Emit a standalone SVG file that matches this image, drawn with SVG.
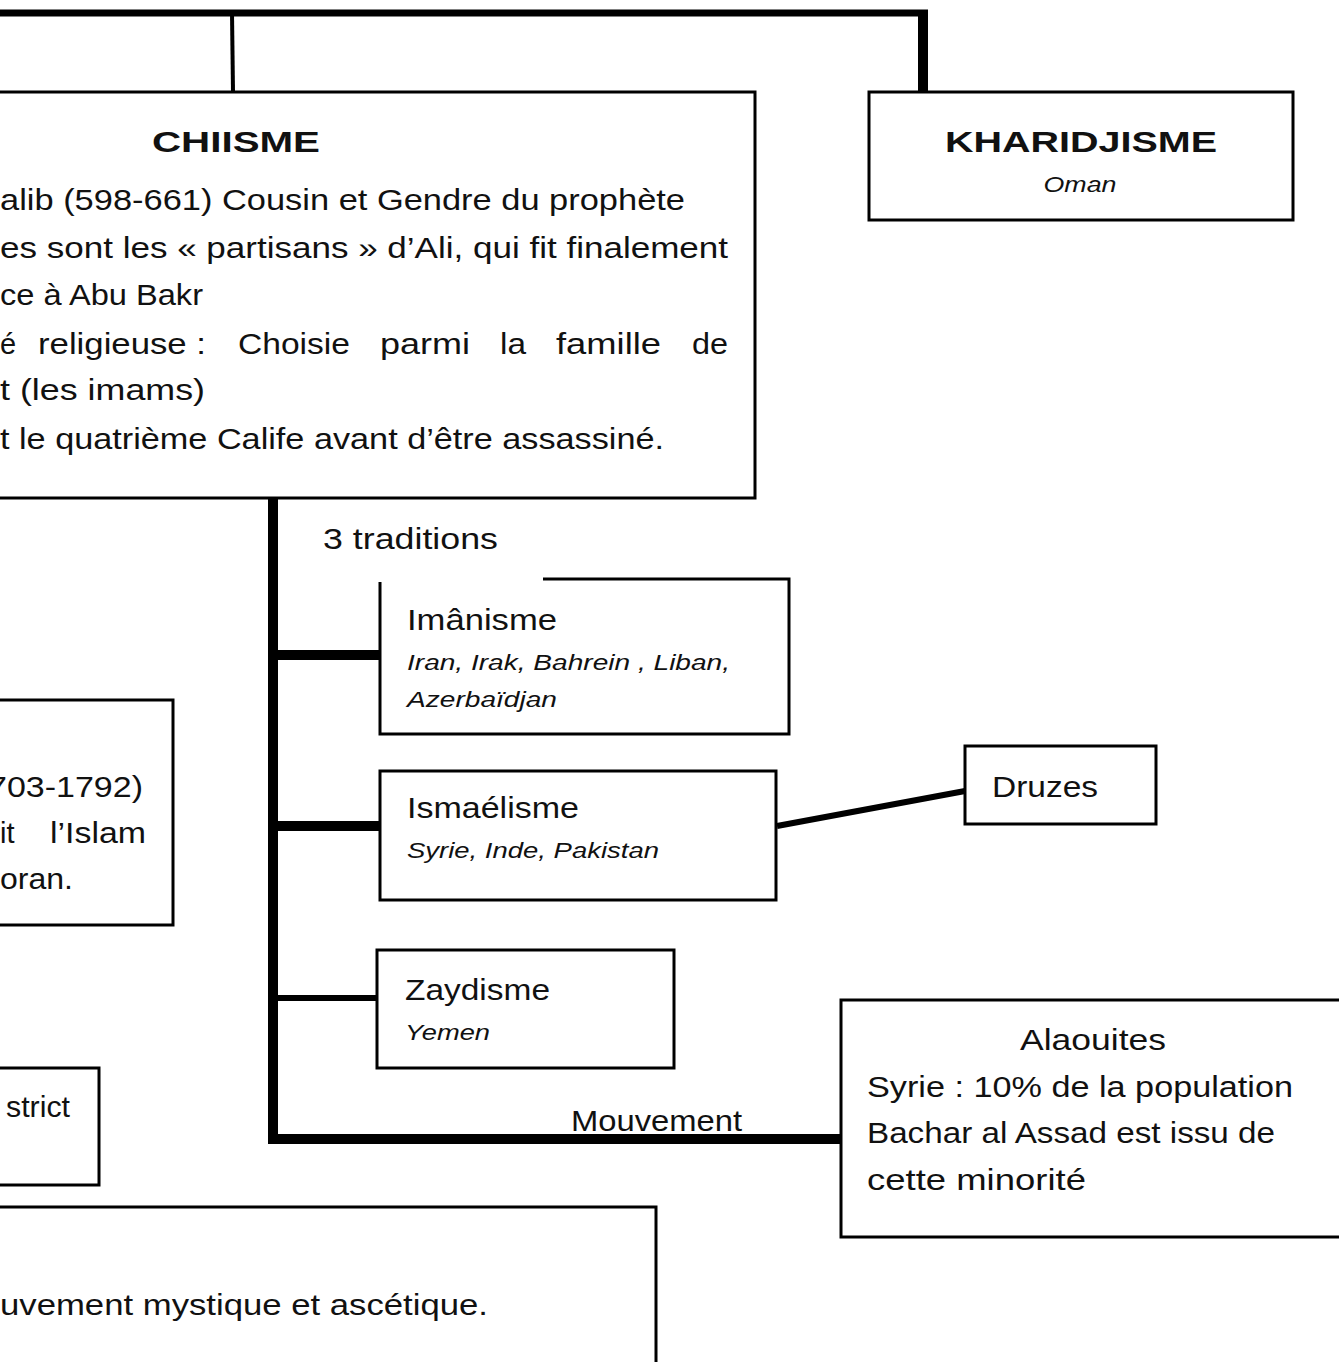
<svg xmlns="http://www.w3.org/2000/svg" width="1339" height="1362" viewBox="0 0 1339 1362">
<style>
.box{fill:#fff;stroke:#000;stroke-width:3}
.t{font-family:"Liberation Sans",Arial,sans-serif;fill:#111;font-size:29px}
.b{font-weight:bold}
.i{font-style:italic;font-size:22px}
.c{text-anchor:middle}
.ln{stroke:#000;fill:none}
</style>
<rect width="1339" height="1362" fill="#fff"/>
<g id="connectors">
<line class="ln" x1="0" y1="13" x2="928" y2="13" stroke-width="7"/>
<line class="ln" x1="232" y1="13" x2="233" y2="92" stroke-width="4"/>
<line class="ln" x1="923" y1="13" x2="923" y2="92" stroke-width="10"/>
<line class="ln" x1="273" y1="498" x2="273" y2="1143" stroke-width="10"/>
<line class="ln" x1="273" y1="655" x2="380" y2="655" stroke-width="10"/>
<line class="ln" x1="273" y1="826" x2="380" y2="826" stroke-width="10"/>
<line class="ln" x1="273" y1="998" x2="377" y2="998" stroke-width="6"/>
<line class="ln" x1="268" y1="1139" x2="841" y2="1139" stroke-width="10"/>
<line class="ln" x1="777" y1="826" x2="965" y2="791" stroke-width="6"/>
<text class="t" x="323" y="549" font-size="28" textLength="175" lengthAdjust="spacingAndGlyphs">3 traditions</text>
<text class="t" x="571" y="1131" font-size="26" textLength="171" lengthAdjust="spacingAndGlyphs">Mouvement</text>
</g>
<g id="chiisme">
<rect class="box" x="-10" y="92" width="765" height="406"/>
<text class="t b" x="152" y="152" font-size="45" textLength="168" lengthAdjust="spacingAndGlyphs">CHIISME</text>
<text class="t" x="0" y="210" textLength="685" lengthAdjust="spacingAndGlyphs">alib (598-661) Cousin et Gendre du prophète</text>
<text class="t" x="0" y="258" textLength="728" lengthAdjust="spacingAndGlyphs">es sont les « partisans » d’Ali, qui fit finalement</text>
<text class="t" x="0" y="305" textLength="203" lengthAdjust="spacingAndGlyphs">ce à Abu Bakr</text>
<text class="t" y="354"><tspan x="0">é</tspan><tspan x="38" textLength="168" lengthAdjust="spacingAndGlyphs">religieuse :</tspan><tspan x="238" textLength="112" lengthAdjust="spacingAndGlyphs">Choisie</tspan><tspan x="380" textLength="90" lengthAdjust="spacingAndGlyphs">parmi</tspan><tspan x="500" textLength="26" lengthAdjust="spacingAndGlyphs">la</tspan><tspan x="556" textLength="105" lengthAdjust="spacingAndGlyphs">famille</tspan><tspan x="692" textLength="36" lengthAdjust="spacingAndGlyphs">de</tspan></text>
<text class="t" x="0" y="400" textLength="205" lengthAdjust="spacingAndGlyphs">t (les imams)</text>
<text class="t" x="0" y="449" textLength="664" lengthAdjust="spacingAndGlyphs">t le quatrième Calife avant d’être assassiné.</text>
</g>
<g id="kharidjisme">
<rect class="box" x="869" y="92" width="424" height="128"/>
<text class="t b" x="945" y="152" font-size="45" textLength="272" lengthAdjust="spacingAndGlyphs">KHARIDJISME</text>
<text class="t i c" x="1080" y="192" textLength="73" lengthAdjust="spacingAndGlyphs">Oman</text>
</g>
<g id="imanisme">
<path class="ln" stroke-width="3" d="M543 579 H789 V734 H380 V582"/>
<text class="t" x="407" y="630" textLength="150" lengthAdjust="spacingAndGlyphs">Imânisme</text>
<text class="t i" x="407" y="670" textLength="323" lengthAdjust="spacingAndGlyphs">Iran, Irak, Bahrein , Liban,</text>
<text class="t i" x="407" y="707" textLength="150" lengthAdjust="spacingAndGlyphs">Azerbaïdjan</text>
</g>
<g id="ismaelisme">
<rect class="box" x="380" y="771" width="396" height="129"/>
<text class="t" x="407" y="818" textLength="172" lengthAdjust="spacingAndGlyphs">Ismaélisme</text>
<text class="t i" x="407" y="858" textLength="252" lengthAdjust="spacingAndGlyphs">Syrie, Inde, Pakistan</text>
</g>
<g id="druzes">
<rect class="box" x="965" y="746" width="191" height="78"/>
<text class="t" x="992" y="797" textLength="106" lengthAdjust="spacingAndGlyphs">Druzes</text>
</g>
<g id="zaydisme">
<rect class="box" x="377" y="950" width="297" height="118"/>
<text class="t" x="405" y="1000" textLength="145" lengthAdjust="spacingAndGlyphs">Zaydisme</text>
<text class="t i" x="405" y="1040" textLength="85" lengthAdjust="spacingAndGlyphs">Yemen</text>
</g>
<g id="alaouites">
<rect class="box" x="841" y="1000" width="510" height="237"/>
<text class="t" x="1020" y="1050" textLength="146" lengthAdjust="spacingAndGlyphs">Alaouites</text>
<text class="t" x="867" y="1097" textLength="426" lengthAdjust="spacingAndGlyphs">Syrie : 10% de la population</text>
<text class="t" x="867" y="1143" textLength="408" lengthAdjust="spacingAndGlyphs">Bachar al Assad est issu de</text>
<text class="t" x="867" y="1190" textLength="219" lengthAdjust="spacingAndGlyphs">cette minorité</text>
</g>
<g id="wahhabisme">
<rect class="box" x="-10" y="700" width="183" height="225"/>
<text class="t" x="-12" y="797" textLength="155" lengthAdjust="spacingAndGlyphs">703-1792)</text>
<text class="t" y="843"><tspan x="0">it</tspan><tspan x="50" textLength="96" lengthAdjust="spacingAndGlyphs">l’Islam</tspan></text>
<text class="t" x="0" y="889" textLength="73" lengthAdjust="spacingAndGlyphs">oran.</text>
</g>
<g id="strict">
<rect class="box" x="-10" y="1068" width="109" height="117"/>
<text class="t" x="6" y="1117" font-size="22" textLength="64" lengthAdjust="spacingAndGlyphs">strict</text>
</g>
<g id="soufisme">
<rect class="box" x="-10" y="1207" width="666" height="170"/>
<text class="t" x="0" y="1315" font-size="28" textLength="488" lengthAdjust="spacingAndGlyphs">uvement mystique et ascétique.</text>
</g>
</svg>
